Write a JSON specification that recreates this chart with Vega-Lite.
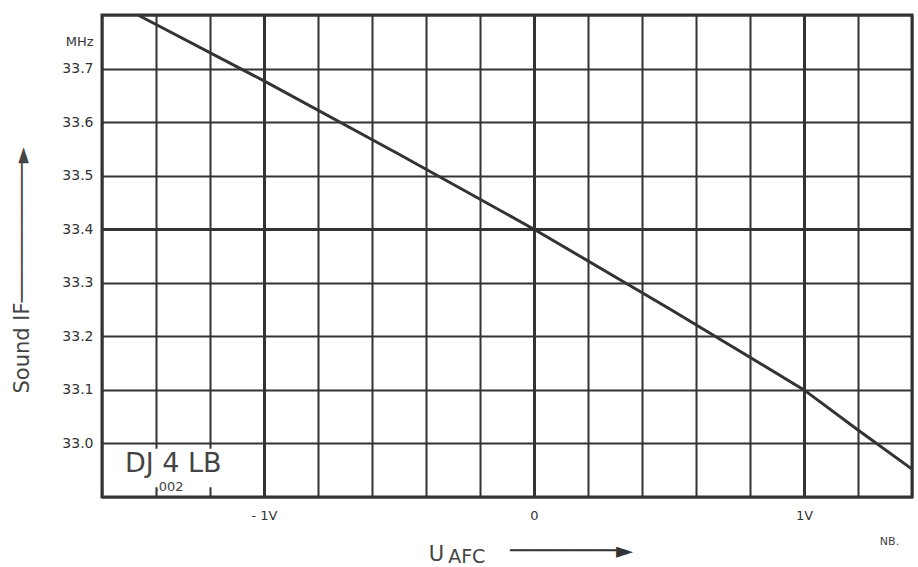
{
  "$schema": "https://vega.github.io/schema/vega-lite/v6.json",
  "width": 810,
  "height": 482,
  "autosize": {"type": "none"},
  "padding": {"left": 102, "top": 15, "right": 6, "bottom": 70},
  "background": "white",
  "config": {
    "view": {"stroke": "#333", "strokeWidth": 3},
    "font": "DejaVu Sans"
  },
  "datasets": {
    "curve": [
      {"u": -1.467, "f": 33.8},
      {"u": -1.0, "f": 33.677},
      {"u": -0.5, "f": 33.54},
      {"u": 0.0, "f": 33.4},
      {"u": 0.5, "f": 33.252},
      {"u": 1.0, "f": 33.1},
      {"u": 1.2, "f": 33.025},
      {"u": 1.4, "f": 32.952}
    ]
  },
  "layer": [
    {
      "data": {"name": "curve"},
      "mark": {"type": "line", "color": "#333", "strokeWidth": 3, "interpolate": "linear"},
      "encoding": {
        "x": {
          "field": "u", "type": "quantitative",
          "scale": {"domain": [-1.6, 1.4], "nice": false, "zero": false},
          "axis": {
            "values": [-1.6, -1.4, -1.2, -1.0, -0.8, -0.6, -0.4, -0.2, 0, 0.2, 0.4, 0.6, 0.8, 1.0, 1.2, 1.4],
            "labelExpr": "abs(datum.value + 1) < 0.01 ? '- 1V' : abs(datum.value) < 0.01 ? '0' : abs(datum.value - 1) < 0.01 ? '1V' : ''",
            "ticks": false, "domain": false, "grid": true,
            "gridColor": "#333",
            "gridWidth": {"condition": {"test": "abs(datum.value) < 0.01 || abs(abs(datum.value) - 1) < 0.01", "value": 3}, "value": 2},
            "labelFontSize": 13, "labelColor": "#333", "labelPadding": 12,
            "labelFlush": false, "labelOverlap": false,
            "title": null
          }
        },
        "y": {
          "field": "f", "type": "quantitative",
          "scale": {"domain": [32.9, 33.8], "nice": false, "zero": false},
          "axis": {
            "values": [32.9, 33.0, 33.1, 33.2, 33.3, 33.4, 33.5, 33.6, 33.7, 33.75, 33.8],
            "labelExpr": "abs(datum.value - 33.75) < 0.001 ? 'MHz' : (datum.value < 32.95 || datum.value > 33.77) ? '' : format(datum.value, '.1f')",
            "ticks": false, "domain": false, "grid": true,
            "gridColor": "#333",
            "gridWidth": {"condition": {"test": "abs(datum.value - 33.4) < 0.001", "value": 3}, "value": 2},
            "gridOpacity": {"condition": {"test": "abs(datum.value - 33.75) < 0.001", "value": 0}, "value": 1},
            "labelFontSize": {"condition": {"test": "abs(datum.value - 33.75) < 0.001", "value": 13}, "value": 14},
            "labelColor": "#333", "labelPadding": 9,
            "labelFlush": false, "labelOverlap": false,
            "title": "Sound IF───────────►",
            "titleFontSize": 21, "titleFontWeight": "normal", "titleColor": "#444",
            "titleAngle": -90, "titleAlign": "left", "titleBaseline": "middle",
            "titleX": -80, "titleY": 378
          }
        }
      }
    },
    {
      "data": {"values": [{}]},
      "mark": {"type": "rect", "color": "white"},
      "encoding": {
        "x": {"datum": -1.585, "type": "quantitative"},
        "x2": {"datum": -1.08},
        "y": {"datum": 32.918, "type": "quantitative"},
        "y2": {"datum": 32.99}
      }
    },
    {
      "data": {"values": [{"t": "DJ 4 LB"}]},
      "mark": {"type": "text", "align": "left", "baseline": "alphabetic", "fontSize": 27, "color": "#444"},
      "encoding": {
        "x": {"datum": -1.515, "type": "quantitative"},
        "y": {"datum": 32.947, "type": "quantitative"},
        "text": {"field": "t"}
      }
    },
    {
      "data": {"values": [{"t": ",002"}]},
      "mark": {"type": "text", "align": "left", "baseline": "alphabetic", "fontSize": 13, "color": "#444"},
      "encoding": {
        "x": {"datum": -1.405, "type": "quantitative"},
        "y": {"datum": 32.912, "type": "quantitative"},
        "text": {"field": "t"}
      }
    },
    {
      "data": {"values": [{"t": "U"}]},
      "mark": {"type": "text", "align": "left", "baseline": "alphabetic", "fontSize": 21, "color": "#444"},
      "encoding": {
        "x": {"datum": -0.39, "type": "quantitative"},
        "y": {"datum": 32.781, "type": "quantitative"},
        "text": {"field": "t"}
      }
    },
    {
      "data": {"values": [{"t": "AFC"}]},
      "mark": {"type": "text", "align": "left", "baseline": "alphabetic", "fontSize": 19, "color": "#444"},
      "encoding": {
        "x": {"datum": -0.318, "type": "quantitative"},
        "y": {"datum": 32.776, "type": "quantitative"},
        "text": {"field": "t"}
      }
    },
    {
      "data": {"values": [{"t": "────────►"}]},
      "mark": {"type": "text", "align": "left", "baseline": "middle", "fontSize": 22, "color": "#333"},
      "encoding": {
        "x": {"datum": -0.089, "type": "quantitative"},
        "y": {"datum": 32.799, "type": "quantitative"},
        "text": {"field": "t"}
      }
    },
    {
      "data": {"values": [{"t": "NB."}]},
      "mark": {"type": "text", "align": "left", "baseline": "alphabetic", "fontSize": 11, "color": "#444"},
      "encoding": {
        "x": {"datum": 1.281, "type": "quantitative"},
        "y": {"datum": 32.81, "type": "quantitative"},
        "text": {"field": "t"}
      }
    }
  ]
}
